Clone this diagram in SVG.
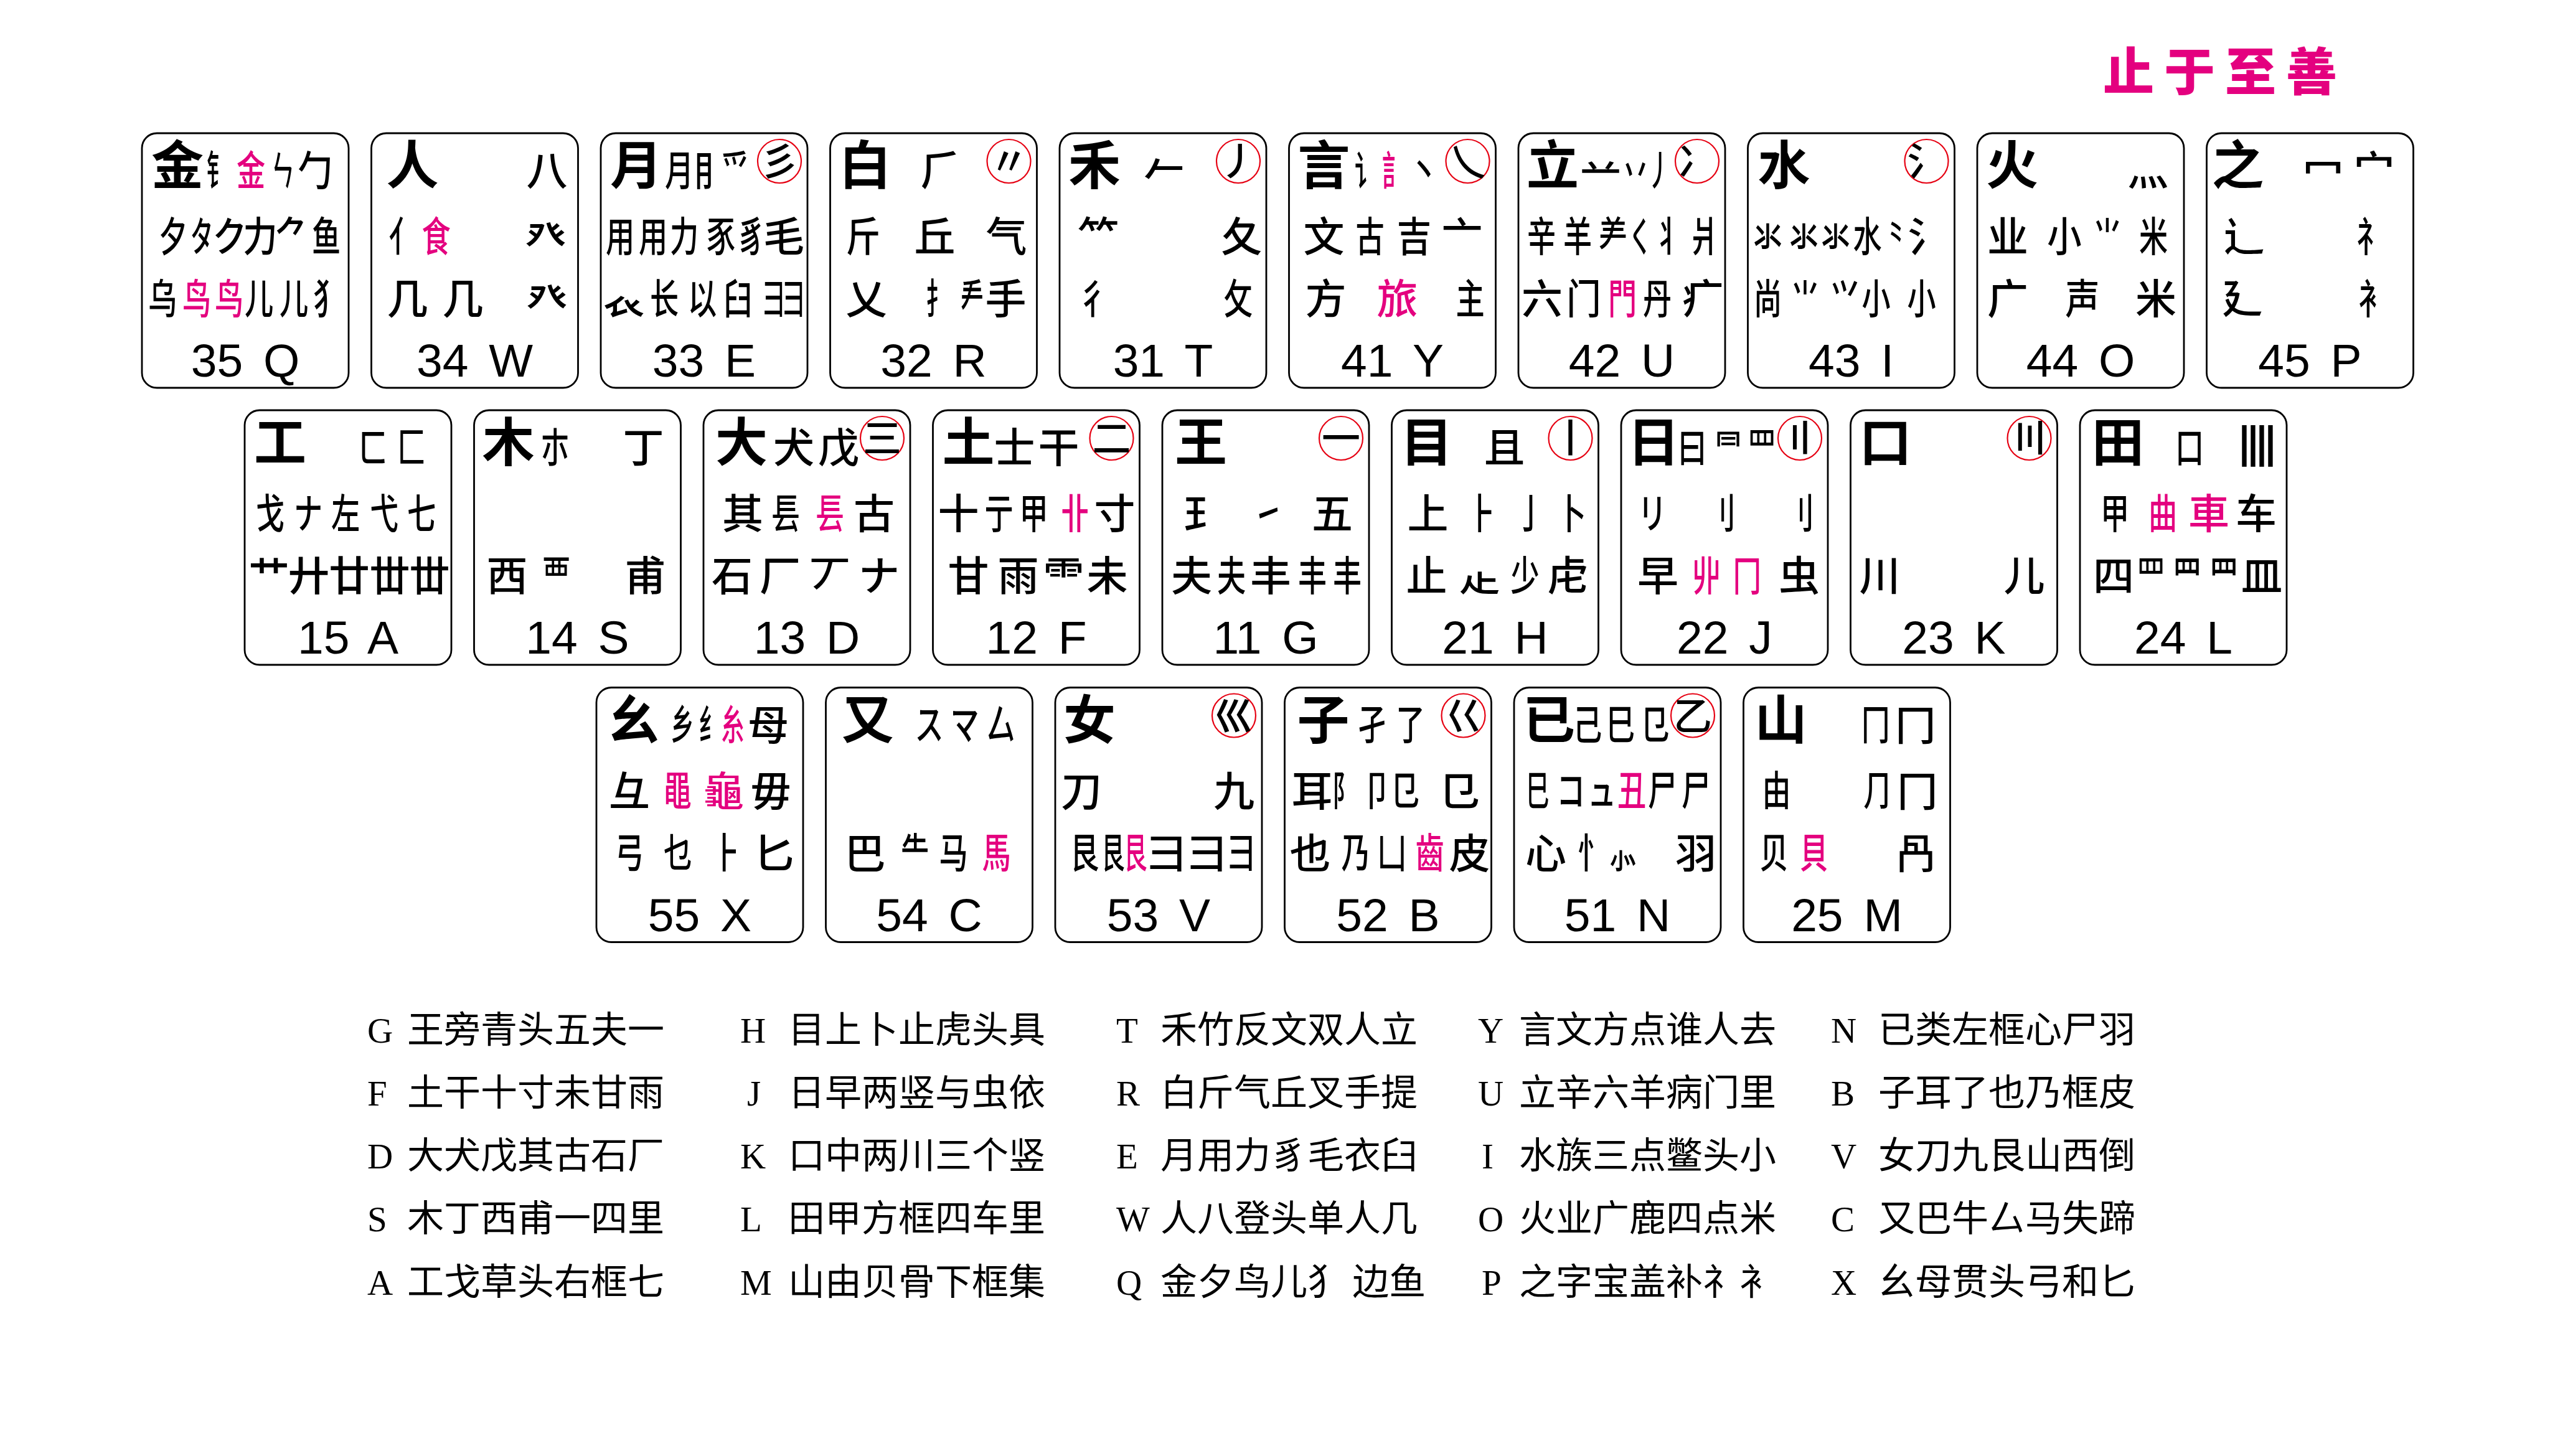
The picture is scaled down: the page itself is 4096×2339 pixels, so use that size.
<svg xmlns="http://www.w3.org/2000/svg" width="4096" height="2339" viewBox="0 0 4096 2339">
<style>
.k{fill:#fff;stroke:#000;stroke-width:2.8}
.c{fill:none;stroke:#E60012;stroke-width:2.2}
.b{font-family:"Noto Sans CJK SC",sans-serif;font-size:84px;font-weight:700;text-anchor:middle;fill:#000}
.g text{font-family:"Noto Sans CJK SC",sans-serif;font-size:66px;font-weight:500;text-anchor:middle;fill:#000;transform-box:fill-box;transform-origin:center;transform:scaleX(.84)}
.g text.w{transform:none}
.g text.m{transform:scaleX(.7)}
.g text.nn{transform:scaleX(.56)}
.g text.p{fill:#E4007F}
.st{font-family:"Noto Sans CJK SC",sans-serif;font-size:62px;font-weight:500;text-anchor:middle;fill:#000}
.bars{font-family:"Noto Sans CJK SC",sans-serif;font-size:72px;font-weight:500;text-anchor:middle;fill:#000}
.n{font-family:"Liberation Sans",Arial,sans-serif;font-size:75px;text-anchor:middle;word-spacing:12px;fill:#000}
.lg{font-family:"Liberation Serif","Times New Roman",serif;font-size:57px;fill:#000}
.lc{font-family:"Noto Sans CJK SC",sans-serif;font-size:59px;fill:#000}
.t{font-family:"Noto Sans CJK SC",sans-serif;font-size:82px;font-weight:900;fill:#E4007F;letter-spacing:16px}
</style>
<rect width="4096" height="2339" fill="#fff"/>
<g id="title"><text class="t" x="3378" y="145">止于至善</text></g>

<g id="key-Q" transform="translate(228,214)">
<rect class="k" width="332" height="409" rx="24"/>
<text class="b" x="57" y="82">金</text>
<g class="g">
<text class="nn" x="122" y="84">钅</text><text class="p m" x="175" y="84">金</text><text class="nn" x="226" y="84">ㄣ</text><text x="278" y="84">勹</text>
<text class="m" x="50" y="190">夕</text><text class="nn" x="96" y="190">タ</text><text x="141" y="190">ク</text><text x="190" y="190">力</text><text x="241" y="190">⺈</text><text class="m" x="296" y="190">鱼</text>
<text class="m" x="33" y="290">乌</text><text class="p m" x="88" y="290">鸟</text><text class="p m" x="140" y="290">鸟</text><text class="m" x="188" y="290">儿</text><text class="m" x="244" y="290">儿</text><text class="m" x="298" y="290">犭</text>
</g>
<text class="n" x="166" y="391">35 Q</text>
</g>

<g id="key-W" transform="translate(596.5,214)">
<rect class="k" width="332" height="409" rx="24"/>
<text class="b" x="66" y="82">人</text>
<g class="g">
<text class="w" x="282" y="84">八</text>
<text class="m" x="51" y="190">亻</text><text class="p m" x="104" y="190">食</text><text class="w" x="280" y="190">癶</text>
<text class="w" x="58" y="290">几</text><text class="w" x="147" y="290">几</text><text class="w" x="282" y="290">癶</text>
</g>
<text class="n" x="166" y="391">34 W</text>
</g>

<g id="key-E" transform="translate(965,214)">
<rect class="k" width="332" height="409" rx="24"/>
<text class="b" x="57" y="82">月</text>
<circle class="c" cx="287" cy="45" r="35"/><text class="st" x="287" y="68">彡</text>
<g class="g">
<text class="m" x="126" y="84">月</text><text class="m" x="172" y="84">⺝</text><text class="m" x="216" y="84">爫</text>
<text class="m" x="31" y="190">用</text><text class="m" x="84" y="190">用</text><text class="m" x="134" y="190">力</text><text class="m" x="193" y="190">豕</text><text class="m" x="242" y="190">豸</text><text class="w" x="294" y="190">毛</text>
<text class="w" x="37" y="290">𧘇</text><text class="m" x="102" y="290">⻓</text><text class="m" x="163" y="290">以</text><text class="m" x="220" y="290">臼</text><text class="nn" x="278" y="290">⺕</text><text class="nn" x="310" y="290">⺕</text>
</g>
<text class="n" x="166" y="391">33 E</text>
</g>

<g id="key-R" transform="translate(1333.5,214)">
<rect class="k" width="332" height="409" rx="24"/>
<text class="b" x="56" y="82">白</text>
<circle class="c" cx="287" cy="45" r="35"/><text class="st" x="287" y="68">〃</text>
<g class="g">
<text class="w" x="178" y="84">⺁</text>
<text x="53" y="190">斤</text><text class="w" x="168" y="190">丘</text><text class="w" x="283" y="190">气</text>
<text class="w" x="58" y="290">乂</text><text class="nn" x="172" y="290">扌</text><text class="nn" x="228" y="290">龵</text><text class="w" x="282" y="290">手</text>
</g>
<text class="n" x="166" y="391">32 R</text>
</g>

<g id="key-T" transform="translate(1702,214)">
<rect class="k" width="332" height="409" rx="24"/>
<text class="b" x="56" y="82">禾</text>
<circle class="c" cx="287" cy="45" r="35"/><text class="st" x="287" y="68">丿</text>
<g class="g">
<text class="w" x="168" y="84">𠂉</text>
<text class="w" x="62" y="190">⺮</text><text class="w" x="292" y="190">夂</text>
<text class="m" x="53" y="290">彳</text><text class="m" x="287" y="290">攵</text>
</g>
<text class="n" x="166" y="391">31 T</text>
</g>

<g id="key-Y" transform="translate(2070.5,214)">
<rect class="k" width="332" height="409" rx="24"/>
<text class="b" x="56" y="82">言</text>
<circle class="c" cx="287" cy="45" r="35"/><text class="st" x="287" y="68">乀</text>
<g class="g">
<text class="nn" x="124" y="84">讠</text><text class="p nn" x="168" y="84">訁</text><text class="m" x="217" y="84">丶</text>
<text class="w" x="56" y="190">文</text><text class="m" x="130" y="190">古</text><text x="201" y="190">吉</text><text class="w" x="278" y="190">亠</text>
<text class="w" x="59" y="290">方</text><text class="p w" x="174" y="290">旅</text><text class="m" x="291" y="290">主</text>
</g>
<text class="n" x="166" y="391">41 Y</text>
</g>

<g id="key-U" transform="translate(2439,214)">
<rect class="k" width="332" height="409" rx="24"/>
<text class="b" x="55" y="82">立</text>
<circle class="c" cx="287" cy="45" r="35"/><text class="st" x="287" y="68">冫</text>
<g class="g">
<text class="w" x="132" y="84">䒑</text><text class="m" x="188" y="84">丷</text><text class="nn" x="226" y="84">丿</text>
<text class="m" x="37" y="190">辛</text><text class="m" x="95" y="190">羊</text><text class="m" x="152" y="190">⺶</text><text class="nn" x="196" y="190">く</text><text class="m" x="240" y="190">丬</text><text class="m" x="299" y="190">爿</text>
<text class="w" x="38" y="290">六</text><text x="105" y="290">门</text><text class="p m" x="167" y="290">門</text><text class="m" x="223" y="290">丹</text><text class="w" x="296" y="290">疒</text>
</g>
<text class="n" x="166" y="391">42 U</text>
</g>

<g id="key-I" transform="translate(2807.5,214)">
<rect class="k" width="332" height="409" rx="24"/>
<text class="b" x="58" y="82">水</text>
<circle class="c" cx="287" cy="45" r="35"/><text class="st" x="287" y="68">氵</text>
<g class="g">
<text class="m" x="32" y="190">氺</text><text class="m" x="90" y="190">氺</text><text class="m" x="141" y="190">氺</text><text class="m" x="192" y="190">水</text><text class="nn" x="238" y="190">⺀</text><text class="w" x="290" y="190">⺡</text>
<text class="m" x="32" y="290">尚</text><text class="m" x="92" y="290">⺌</text><text class="m" x="156" y="290">⺍</text><text class="m" x="206" y="290">小</text><text class="m" x="279" y="290">小</text>
</g>
<text class="n" x="166" y="391">43 I</text>
</g>

<g id="key-O" transform="translate(3176,214)">
<rect class="k" width="332" height="409" rx="24"/>
<text class="b" x="56" y="82">火</text>
<g class="g">
<text class="w" x="274" y="84">灬</text>
<text class="w" x="49" y="190">业</text><text x="140" y="190">小</text><text class="m" x="209" y="190">⺌</text><text class="m" x="283" y="190">米</text>
<text class="w" x="49" y="290">广</text><text x="169" y="290">声</text><text class="w" x="287" y="290">米</text>
</g>
<text class="n" x="166" y="391">44 O</text>
</g>

<g id="key-P" transform="translate(3544.5,214)">
<rect class="k" width="332" height="409" rx="24"/>
<text class="b" x="50" y="82">之</text>
<g class="g">
<text class="w" x="187" y="84">冖</text><text class="w" x="269" y="84">宀</text>
<text class="w" x="60" y="190">辶</text><text class="m" x="264" y="190">礻</text>
<text class="w" x="57" y="290">廴</text><text class="m" x="267" y="290">衤</text>
</g>
<text class="n" x="166" y="391">45 P</text>
</g>

<g id="key-A" transform="translate(393,659)">
<rect class="k" width="332" height="409" rx="24"/>
<text class="b" x="57" y="82">工</text>
<g class="g">
<text class="m" x="206" y="84">ㄈ</text><text class="m" x="268" y="84">匚</text>
<text class="m" x="41" y="190">戈</text><text class="m" x="102" y="190">ナ</text><text class="m" x="162" y="190">左</text><text class="m" x="224" y="190">弋</text><text class="m" x="284" y="190">七</text>
<text class="w" x="39" y="290">艹</text><text class="w" x="103" y="290">廾</text><text class="w" x="168" y="290">廿</text><text class="w" x="233" y="290">丗</text><text class="w" x="297" y="290">丗</text>
</g>
<text class="n" x="166" y="391">15 A</text>
</g>

<g id="key-S" transform="translate(761.5,659)">
<rect class="k" width="332" height="409" rx="24"/>
<text class="b" x="55" y="82">木</text>
<g class="g">
<text class="m" x="130" y="84">朩</text><text class="w" x="272" y="84">丁</text>
<text class="w" x="53" y="290">西</text><text class="m" x="132" y="290">覀</text><text class="w" x="275" y="290">甫</text>
</g>
<text class="n" x="166" y="391">14 S</text>
</g>

<g id="key-D" transform="translate(1130,659)">
<rect class="k" width="332" height="409" rx="24"/>
<text class="b" x="61" y="82">大</text>
<circle class="c" cx="287" cy="45" r="35"/><text class="st" x="287" y="68">三</text>
<g class="g">
<text class="w" x="145" y="84">犬</text><text class="w" x="217" y="84">戊</text>
<text class="w" x="63" y="190">其</text><text class="m" x="132" y="190">镸</text><text class="p m" x="203" y="190">镸</text><text class="w" x="274" y="190">古</text>
<text class="w" x="46" y="290">石</text><text class="w" x="123" y="290">厂</text><text class="w" x="203" y="290">丆</text><text class="w" x="282" y="290">ナ</text>
</g>
<text class="n" x="166" y="391">13 D</text>
</g>

<g id="key-F" transform="translate(1498.5,659)">
<rect class="k" width="332" height="409" rx="24"/>
<text class="b" x="57" y="82">土</text>
<circle class="c" cx="287" cy="45" r="35"/><text class="st" x="287" y="68">二</text>
<g class="g">
<text class="w" x="131" y="84">士</text><text class="w" x="202" y="84">干</text>
<text class="w" x="41" y="190">十</text><text class="m" x="106" y="190">亍</text><text class="m" x="162" y="190">甲</text><text class="p m" x="228" y="190">卝</text><text class="w" x="292" y="190">寸</text>
<text class="w" x="57" y="290">甘</text><text class="w" x="137" y="290">雨</text><text class="w" x="210" y="290">⻗</text><text class="w" x="280" y="290">未</text>
</g>
<text class="n" x="166" y="391">12 F</text>
</g>

<g id="key-G" transform="translate(1867,659)">
<rect class="k" width="332" height="409" rx="24"/>
<text class="b" x="62" y="82">王</text>
<circle class="c" cx="287" cy="45" r="35"/><text class="st" x="287" y="68">一</text>
<g class="g">
<text class="w" x="67" y="190">⺩</text><text class="m" x="170" y="190">㇀</text><text class="w" x="273" y="190">五</text>
<text class="w" x="47" y="290">夫</text><text class="m" x="111" y="290">夫</text><text class="w" x="174" y="290">丰</text><text class="m" x="241" y="290">丰</text><text class="m" x="297" y="290">丰</text>
</g>
<text class="n" x="166" y="391">11 G</text>
</g>

<g id="key-H" transform="translate(2235.5,659)">
<rect class="k" width="332" height="409" rx="24"/>
<text class="b" x="56" y="82">目</text>
<circle class="c" cx="287" cy="45" r="35"/><text class="st" x="287" y="68">丨</text>
<g class="g">
<text class="w" x="181" y="84">且</text>
<text class="w" x="58" y="190">上</text><text class="m" x="145" y="190">⺊</text><text class="m" x="223" y="190">亅</text><text class="m" x="289" y="190">卜</text>
<text class="w" x="56" y="290">止</text><text class="w" x="141" y="290">龰</text><text class="m" x="214" y="290">少</text><text class="w" x="283" y="290">虍</text>
</g>
<text class="n" x="166" y="391">21 H</text>
</g>

<g id="key-J" transform="translate(2604,659)">
<rect class="k" width="332" height="409" rx="24"/>
<text class="b" x="52" y="82">日</text>
<circle class="c" cx="287" cy="45" r="35"/><text class="st" x="287" y="68">〢</text>
<g class="g">
<text class="m" x="114" y="84">曰</text><text class="m" x="172" y="84">⺜</text><text class="m" x="226" y="84">罒</text>
<text class="m" x="50" y="190">リ</text><text class="m" x="161" y="190">⺉</text><text class="m" x="287" y="190">刂</text>
<text class="w" x="59" y="290">早</text><text class="p m" x="137" y="290">丱</text><text class="p m" x="202" y="290">冂</text><text class="w" x="286" y="290">虫</text>
</g>
<text class="n" x="166" y="391">22 J</text>
</g>

<g id="key-K" transform="translate(2972.5,659)">
<rect class="k" width="332" height="409" rx="24"/>
<text class="b" x="56" y="82">口</text>
<circle class="c" cx="287" cy="45" r="35"/><text class="st" x="287" y="68">〣</text>
<g class="g">
<text class="w" x="47" y="290">川</text><text class="w" x="279" y="290">儿</text>
</g>
<text class="n" x="166" y="391">23 K</text>
</g>

<g id="key-L" transform="translate(3341,659)">
<rect class="k" width="332" height="409" rx="24"/>
<text class="b" x="61" y="82">田</text>
<text class="bars" x="264 278 292 306" y="84">丨丨丨丨</text>
<g class="g">
<text class="m" x="176" y="84">口</text>
<text class="m" x="56" y="190">甲</text><text class="p m" x="133" y="190">曲</text><text class="p w" x="207" y="190">車</text><text class="w" x="283" y="190">车</text>
<text class="w" x="54" y="290">四</text><text class="m" x="114" y="290">罒</text><text class="m" x="172" y="290">⺫</text><text class="m" x="231" y="290">⺲</text><text class="w" x="292" y="290">皿</text>
</g>
<text class="n" x="166" y="391">24 L</text>
</g>

<g id="key-X" transform="translate(958,1104.5)">
<rect class="k" width="332" height="409" rx="24"/>
<text class="b" x="60" y="82">幺</text>
<g class="g">
<text class="nn" x="138" y="84">乡</text><text class="nn" x="183" y="84">纟</text><text class="p nn" x="219" y="84">糸</text><text class="w" x="276" y="84">母</text>
<text class="w" x="53" y="190">彑</text><text class="p m" x="130" y="190">黽</text><text class="p w" x="204" y="190">龜</text><text class="w" x="280" y="190">毋</text>
<text class="m" x="53" y="290">弓</text><text class="m" x="131" y="290">乜</text><text class="m" x="209" y="290">⺊</text><text class="w" x="285" y="290">匕</text>
</g>
<text class="n" x="166" y="391">55 X</text>
</g>

<g id="key-C" transform="translate(1326.5,1104.5)">
<rect class="k" width="332" height="409" rx="24"/>
<text class="b" x="67" y="82">又</text>
<g class="g">
<text class="m" x="166" y="84">ス</text><text class="m" x="223" y="84">マ</text><text class="m" x="281" y="84">厶</text>
<text class="w" x="63" y="290">巴</text><text class="m" x="143" y="290">⺧</text><text class="m" x="205" y="290">马</text><text class="p m" x="274" y="290">馬</text>
</g>
<text class="n" x="166" y="391">54 C</text>
</g>

<g id="key-V" transform="translate(1695,1104.5)">
<rect class="k" width="332" height="409" rx="24"/>
<text class="b" x="55" y="82">女</text>
<circle class="c" cx="287" cy="45" r="35"/><text class="st" x="287" y="68">巛</text>
<g class="g">
<text class="w" x="42" y="190">刀</text><text class="w" x="287" y="190">九</text>
<text class="m" x="47" y="290">艮</text><text class="nn" x="93" y="290">艮</text><text class="p nn" x="129" y="290">艮</text><text class="w" x="179" y="290">彐</text><text class="w" x="244" y="290">⺕</text><text class="m" x="299" y="290">彐</text>
</g>
<text class="n" x="166" y="391">53 V</text>
</g>

<g id="key-B" transform="translate(2063.5,1104.5)">
<rect class="k" width="332" height="409" rx="24"/>
<text class="b" x="62" y="82">子</text>
<circle class="c" cx="287" cy="45" r="35"/><text class="st" x="287" y="68">巜</text>
<g class="g">
<text class="m" x="140" y="84">孑</text><text class="m" x="202" y="84">了</text>
<text class="w" x="44" y="190">耳</text><text class="nn" x="95" y="190">阝</text><text class="m" x="148" y="190">卩</text><text class="m" x="193" y="190">⺋</text><text class="w" x="280" y="190">㔾</text>
<text class="w" x="41" y="290">也</text><text class="m" x="114" y="290">乃</text><text class="m" x="172" y="290">凵</text><text class="p m" x="233" y="290">齒</text><text class="w" x="297" y="290">皮</text>
</g>
<text class="n" x="166" y="391">52 B</text>
</g>

<g id="key-N" transform="translate(2432,1104.5)">
<rect class="k" width="332" height="409" rx="24"/>
<text class="b" x="56" y="82">已</text>
<circle class="c" cx="287" cy="45" r="35"/><text class="st" x="287" y="68">乙</text>
<g class="g">
<text class="m" x="118" y="84">己</text><text class="m" x="171" y="84">巳</text><text class="m" x="226" y="84">㔾</text>
<text class="nn" x="38" y="190">⺒</text><text class="m" x="91" y="190">コ</text><text class="m" x="141" y="190">ュ</text><text class="p m" x="189" y="190">丑</text><text class="m" x="238" y="190">尸</text><text class="m" x="292" y="190">尸</text>
<text class="w" x="51" y="290">心</text><text class="m" x="125" y="290">忄</text><text class="m" x="175" y="290">⺗</text><text class="w" x="292" y="290">羽</text>
</g>
<text class="n" x="166" y="391">51 N</text>
</g>

<g id="key-M" transform="translate(2800.5,1104.5)">
<rect class="k" width="332" height="409" rx="24"/>
<text class="b" x="60" y="82">山</text>
<g class="g">
<text class="m" x="212" y="84">冂</text><text class="w" x="276" y="84">冂</text>
<text class="m" x="53" y="190">由</text><text class="m" x="215" y="190">⺆</text><text class="w" x="279" y="190">冂</text>
<text class="m" x="49" y="290">贝</text><text class="p m" x="113" y="290">貝</text><text class="w" x="277" y="290">冎</text>
</g>
<text class="n" x="166" y="391">25 M</text>
</g>

<g id="legend">
<text class="lg" x="590" y="1675">G</text><text class="lc" x="654" y="1675">王旁青头五夫一</text>
<text class="lg" x="590" y="1776">F</text><text class="lc" x="654" y="1776">土干十寸未甘雨</text>
<text class="lg" x="590" y="1877">D</text><text class="lc" x="654" y="1877">大犬戊其古石厂</text>
<text class="lg" x="590" y="1978">S</text><text class="lc" x="654" y="1978">木丁西甫一四里</text>
<text class="lg" x="590" y="2080">A</text><text class="lc" x="654" y="2080">工戈草头右框七</text>
<text class="lg" x="1189" y="1675">H</text><text class="lc" x="1266" y="1675">目上卜止虎头具</text>
<text class="lg" x="1200" y="1776">J</text><text class="lc" x="1266" y="1776">日早两竖与虫依</text>
<text class="lg" x="1189" y="1877">K</text><text class="lc" x="1266" y="1877">口中两川三个竖</text>
<text class="lg" x="1189" y="1978">L</text><text class="lc" x="1266" y="1978">田甲方框四车里</text>
<text class="lg" x="1189" y="2080">M</text><text class="lc" x="1266" y="2080">山由贝骨下框集</text>
<text class="lg" x="1793" y="1675">T</text><text class="lc" x="1864" y="1675">禾竹反文双人立</text>
<text class="lg" x="1793" y="1776">R</text><text class="lc" x="1864" y="1776">白斤气丘叉手提</text>
<text class="lg" x="1793" y="1877">E</text><text class="lc" x="1864" y="1877">月用力豸毛衣臼</text>
<text class="lg" x="1793" y="1978">W</text><text class="lc" x="1864" y="1978">人八登头单人几</text>
<text class="lg" x="1793" y="2080">Q</text><text class="lc" x="1864" y="2080">金夕鸟儿犭 边鱼</text>
<text class="lg" x="2374" y="1675">Y</text><text class="lc" x="2440" y="1675">言文方点谁人去</text>
<text class="lg" x="2374" y="1776">U</text><text class="lc" x="2440" y="1776">立辛六羊病门里</text>
<text class="lg" x="2380" y="1877">I</text><text class="lc" x="2440" y="1877">水族三点鳖头小</text>
<text class="lg" x="2374" y="1978">O</text><text class="lc" x="2440" y="1978">火业广鹿四点米</text>
<text class="lg" x="2380" y="2080">P</text><text class="lc" x="2440" y="2080">之字宝盖补礻衤</text>
<text class="lg" x="2941" y="1675">N</text><text class="lc" x="3017" y="1675">已类左框心尸羽</text>
<text class="lg" x="2941" y="1776">B</text><text class="lc" x="3017" y="1776">子耳了也乃框皮</text>
<text class="lg" x="2941" y="1877">V</text><text class="lc" x="3017" y="1877">女刀九艮山西倒</text>
<text class="lg" x="2941" y="1978">C</text><text class="lc" x="3017" y="1978">又巴牛厶马失蹄</text>
<text class="lg" x="2941" y="2080">X</text><text class="lc" x="3017" y="2080">幺母贯头弓和匕</text>
</g>
</svg>
